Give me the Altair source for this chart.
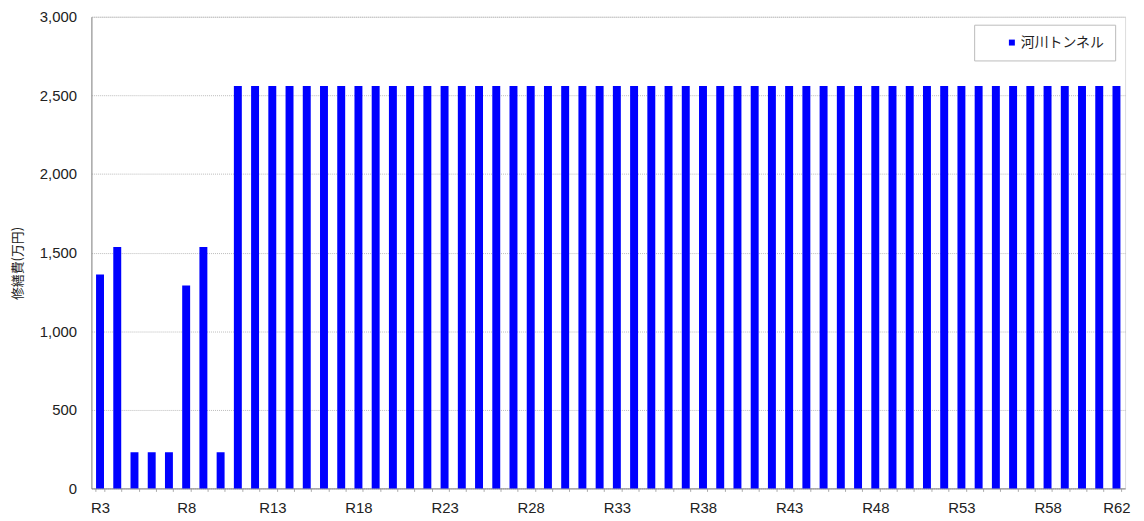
import altair as alt
import pandas as pd

years = [f"R{i}" for i in range(3, 63)]
values = [1360, 1535, 230, 230, 230, 1290, 1535, 230] + [2560] * 52
series = ["河川トンネル"] * len(years)

df = pd.DataFrame({"year": years, "cost": values, "series": series})

label_expr = "(toNumber(substring(datum.value,1)) - 3) % 5 == 0 || datum.value == 'R62' ? datum.value : ''"

chart = alt.Chart(df).mark_bar(size=8).encode(
    x=alt.X("year:N", sort=years, title=None,
            scale=alt.Scale(paddingInner=0.5, paddingOuter=0.25),
            axis=alt.Axis(labelAngle=0, labelExpr=label_expr, labelFont="Liberation Sans",
                          labelFontSize=15, labelColor="#222", labelPadding=9,
                          tickBand="extent", tickSize=3, tickColor="#aaa",
                          domainColor="#888", grid=False)),
    y=alt.Y("cost:Q", title="修繕費(万円)",
            scale=alt.Scale(domain=[0, 3000], nice=False),
            axis=alt.Axis(values=[0, 500, 1000, 1500, 2000, 2500, 3000], format=",d",
                          labelFont="Liberation Sans", labelFontSize=15, labelColor="#222",
                          labelPadding=15, ticks=False, domainColor="#888",
                          gridColor="#bbb", gridDash=[1, 1], gridWidth=1,
                          titleFont="Noto Sans CJK JP", titleFontSize=13, titleFontWeight="normal",
                          titleColor="#222", titlePadding=15, titleY=248)),
    color=alt.Color("series:N", scale=alt.Scale(range=["#0000ff"]),
                    legend=alt.Legend(title=None, orient="none", legendX=889, legendY=8,
                                      symbolType="square", symbolSize=36,
                                      labelFont="Noto Sans CJK JP", labelFontSize=14,
                                      labelColor="#222", strokeColor="#bbb", fillColor="white",
                                      padding=11, symbolOffset=20, labelOffset=2,
                                      symbolStrokeWidth=0))
).properties(
    width=1041, height=475,
    autosize=alt.AutoSizeParams(type="none"),
    padding={"left": 84, "top": 7, "right": 11, "bottom": 30}
).configure_view(stroke="#888", strokeWidth=1).configure(background="white")

chart.save("out.html", embed_options={"renderer": "svg", "actions": False})
